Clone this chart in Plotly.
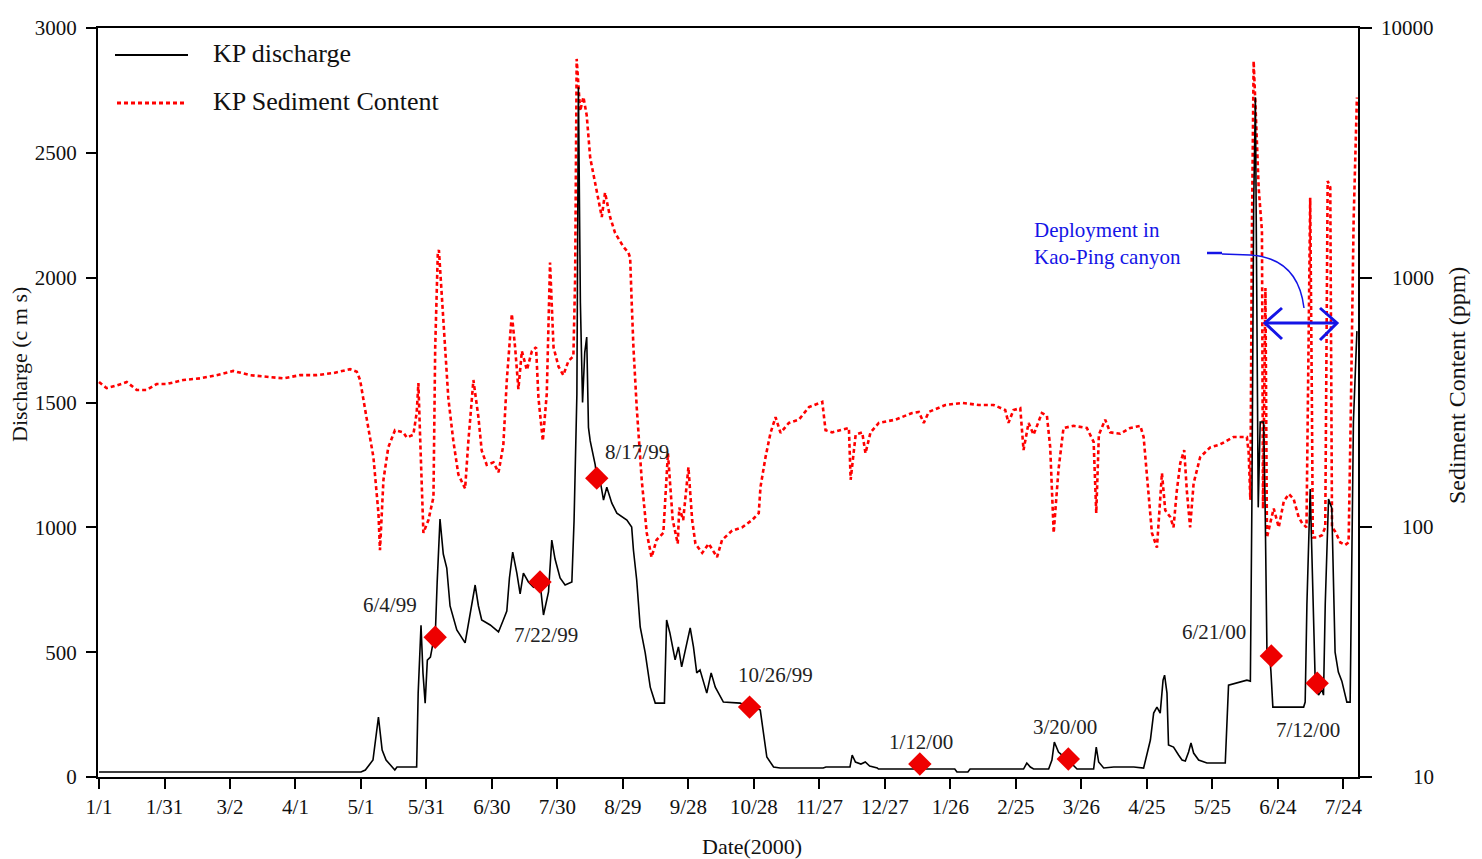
import plotly.graph_objects as go
import math

# ---------------- data (day 0 = 1 Jan 1999) ----------------
tick_day = [0, 30, 60, 90, 120, 150, 180, 210, 240, 270, 300, 330, 360, 390, 420, 450, 480, 510, 540, 570]
tick_text = ["1/1", "1/31", "3/2", "4/1", "5/1", "5/31", "6/30", "7/30", "8/29", "9/28", "10/28",
             "11/27", "12/27", "1/26", "2/25", "3/26", "4/25", "5/25", "6/24", "7/24"]

dis_day = [0, 120, 122, 125.5, 128, 129.7, 131.5, 135.5, 136.5, 145.5, 146.2, 147.5, 148.4, 149.4, 150.4,
           151.8, 153, 154, 154.9, 156.2, 157.7, 159.3, 160.8, 163.9, 167.7, 169.2, 170.8, 172.3, 173.8,
           175.3, 179.2, 183, 185.2, 186.8, 188, 189.5, 191.4, 192.9, 194.4, 196.7, 199, 202, 203.6, 205.9,
           207.4, 208.9, 211.2, 213.5, 216.6, 217.6, 218.9, 219.6, 220.5, 221.5, 222.5, 223.4, 224.2, 225,
           227.3, 228, 229.5, 231.1, 232.6, 234.9, 237.2, 241.8, 244, 244.8, 246.3, 247.9, 250.2, 252.5,
           254.8, 259, 260, 261.5, 263.9, 265.4, 266.9, 269.5, 270.8, 272.3, 273.8, 275.3, 278.4, 280.4,
           282.3, 286, 293.7, 297.4, 299.8, 302.9, 304.4, 305.9, 309, 312, 331.7, 333, 344, 345, 346.5, 349,
           351, 353, 356.5, 357, 392, 393, 398, 399, 423.5, 425, 426.6, 428.1, 435, 436.5, 437.6, 439.5,
           441.1, 443.5, 445.7, 448, 455.6, 456.8, 457.9, 460.2, 464.8, 474, 478.5, 480, 481.6, 483.1, 484.6,
           486.1, 487.4, 488.1, 489.2, 489.9, 492.2, 494.5, 496.1, 497.6, 499.1, 500.2, 501.4, 503.7, 507.5,
           515.9, 516.7, 517.4, 525.8, 527.4, 528.1, 528.9, 529.7, 530.4, 531, 531.9, 533.5, 534.2, 535,
           536.2, 536.8, 537.7, 551.8, 552.5, 553.3, 554.8, 556, 557.1, 558.6, 560.2, 560.9, 561.7, 563.2,
           564.7, 566.2, 567.7, 569.3, 571.6, 573.1, 573.9, 574.6, 576.2]
dis_cms = [20, 20, 28, 68, 240, 108, 68, 28, 40, 40, 336, 608, 416, 296, 468,
           480, 536, 560, 780, 1033, 893, 837, 685, 589, 537, 609, 685, 769, 685,
           629, 609, 581, 629, 665, 797, 901, 817, 733, 817, 781, 760, 781, 649, 741,
           949, 873, 797, 769, 781, 1025, 1534, 2763, 1900, 1500, 1700, 1762, 1400, 1346,
           1250, 1197, 1190, 1109, 1161, 1097, 1057, 1029, 1001, 909, 789, 601, 497, 360,
           296, 296, 629, 577, 469, 521, 441, 537, 597, 521, 417, 429, 336, 417,
           360, 300, 296, 280, 280, 268, 176, 80, 40, 36, 36, 40, 40, 88, 60, 52,
           60, 44, 36, 32, 32, 20, 20, 32, 32, 56, 40, 32, 32, 68, 140, 100,
           88, 72, 52, 32, 32, 120, 60, 36, 40, 40, 36, 96, 148, 256, 280,
           256, 388, 408, 336, 128, 120, 88, 68, 64, 100, 136, 96, 68, 56,
           56, 216, 368, 388, 384, 1100, 2283, 2723, 2000, 1080, 1422, 1422, 1057, 500,
           485, 425, 280, 280, 300, 693, 1153, 769, 384, 328, 350, 328, 693, 1113,
           1077, 500, 420, 384, 300, 300, 885, 1422, 1786]

sed_day = [0, 3.5, 8.1, 12.7, 17.3, 21.8, 26.4, 31, 38.6, 46.3, 53.9, 61.5, 69.2, 76.8, 84.4, 92.1, 99.7,
           107.4, 115, 118.1, 119.6, 122.7, 125.7, 128, 128.7, 130.3, 132.5, 135.6, 139.4, 141, 144, 145.5,
           146.3, 147.1, 148.6, 150.9, 153.2, 154, 155.2, 155.7, 157.8, 160, 162.3, 164.6, 167.7, 169.2,
           171.5, 173.8, 175.3, 177.6, 180.7, 183, 185.2, 186.8, 189.1, 190.6, 192.1, 193.7, 196, 198.3,
           200.2, 201.3, 203.3, 205.1, 206.6, 208.2, 210.5, 212.7, 215, 217.3, 218.1, 218.8, 220.4, 221.9,
           223.4, 225, 228, 230.3, 231.8, 234.1, 236.4, 240.2, 242.5, 243.3, 244, 244.8, 246.3, 248.6,
           250.9, 253.1, 255.4, 258.5, 260.6, 262.8, 265.1, 265.8, 267.6, 270, 271.7, 273.2, 276.3, 279.3,
           283.1, 285.4, 290, 294.6, 299.2, 302.2, 303, 305.3, 307.6, 309.9, 312.2, 316, 320.6, 325.2,
           331.3, 332.8, 335.8, 340.4, 343.5, 344.3, 346.6, 349.6, 351.1, 353.4, 357.2, 364.8, 372.5,
           375.5, 377.8, 380.1, 387.7, 395.4, 403, 409.8, 415.1, 416.6, 418.9, 422, 423.5, 425.8, 428.1,
           431.9, 434.2, 435.7, 437.3, 439.5, 441.8, 446.4, 452.5, 455.6, 456.8, 458, 460.9, 463.2, 467.8,
           472.4, 477, 478.5, 480, 482.3, 484.6, 486.9, 488.4, 490.7, 492.2, 493.7, 495.3, 497.1, 498.3,
           499.8, 501.4, 504.4, 509, 513.6, 519.7, 525.8, 526.6, 527.4, 528.1, 528.9, 530.1, 531.2, 532.7,
           533.2, 534.3, 535, 536.5, 538.1, 540.4, 542.7, 545, 547.2, 549.5, 551.1, 553.1, 554.1, 554.8,
           555.6, 556, 557.9, 560.2, 561.7, 562.8, 564, 564.8, 566.3, 568.6, 570.8, 572.4, 573.4, 574.7,
           576.2]
sed_ppm = [382, 361, 370, 382, 355, 355, 375, 375, 389, 395, 407, 423, 407, 400, 395, 407, 407,
           415, 430, 420, 389, 270, 191, 114, 81, 155, 209, 245, 240, 229, 235, 287,
           378, 229, 95, 107, 132, 526, 1260, 1290, 659, 330, 222, 163, 143, 222,
           389, 276, 203, 178, 182, 166, 213, 389, 715, 526, 358, 508, 427, 508,
           526, 330, 222, 342, 1150, 526, 440, 407, 463, 485, 1000, 7520, 4650, 5290,
           4470, 3020, 2220, 1750, 2190, 1750, 1510, 1330, 1260, 1200, 800, 526, 303, 155,
           95, 76, 89, 95, 198, 107, 86, 120, 107, 174, 107, 86, 79, 86,
           76, 89, 97, 100, 107, 114, 145, 191, 239, 276, 239, 262, 270, 303,
           318, 245, 240, 245, 250, 155, 235, 240, 198, 240, 262, 270, 287,
           290, 262, 290, 309, 315, 309, 309, 295, 262, 295, 300, 204, 262, 235,
           287, 280, 210, 95, 170, 250, 255, 250, 220, 114, 235, 270, 240, 237,
           250, 255, 230, 165, 95, 83, 165, 117, 110, 100, 140, 181, 204, 140,
           100, 150, 191, 209, 215, 230, 230, 200, 129, 1500, 7370, 4070, 2290, 1540,
           119, 910, 91, 104, 119, 100, 127, 136, 130, 110, 104, 100, 910, 2090,
           300, 91, 91, 93, 100, 2440, 2300, 100, 96, 87, 85, 87, 287, 1700,
           5270]

sample_day = [154, 202, 228, 298, 376, 444, 537, 558]
sample_cms = [560, 781, 1197, 280, 52, 72, 485, 376]
sample_label = ["6/4/99", "7/22/99", "8/17/99", "10/26/99", "1/12/00", "3/20/00", "6/21/00", "7/12/00"]

dis_ticks = [0, 500, 1000, 1500, 2000, 2500, 3000]
sed_ticks = [10, 100, 1000, 10000]

# ---------------- layout helpers ----------------
W, H = 1482, 859
L, R, T, B = 98, 124, 28, 82
PW, PH = W - L - R, H - T - B
FONT = "Liberation Serif, Times New Roman, serif"


def px(x):
    return (x - L) / PW


def py(y):
    return (H - B - y) / PH


# label anchor positions for the sample dates (days, cms)
label_x = [133.3, 204.8, 246.5, 309.7, 376.6, 442.6, 510.9, 553.9]
label_y = [689, 569, 1302, 408, 140, 200, 581, 188]

fig = go.Figure()
fig.add_trace(go.Scatter(x=sed_day, y=sed_ppm, yaxis="y", mode="lines",
                         line=dict(color="#ff0000", width=2.6, dash="4px,3px"),
                         name="KP Sediment Content", showlegend=False))
fig.add_trace(go.Scatter(x=dis_day, y=dis_cms, yaxis="y2", mode="lines",
                         line=dict(color="#000000", width=1.6),
                         name="KP discharge", showlegend=False))
fig.add_trace(go.Scatter(x=sample_day, y=sample_cms, yaxis="y2", mode="markers",
                         marker=dict(symbol="diamond", size=18, color="#ee0000"),
                         showlegend=False))

ann = []
for lx, ly, t in zip(label_x, label_y, sample_label):
    ann.append(dict(x=lx, y=ly, xref="x", yref="y2", text=t, showarrow=False,
                    xanchor="center", yanchor="middle",
                    font=dict(family=FONT, size=21, color="#222")))

# right axis tick labels (right aligned)
for v in sed_ticks:
    ann.append(dict(x=px(1436), y=math.log10(v), xref="paper", yref="y", text=str(v),
                    showarrow=False, xanchor="right", yanchor="middle",
                    font=dict(family=FONT, size=21, color="#111")))

# axis titles
ann.append(dict(x=px(752), y=py(846), xref="paper", yref="paper", text="Date(2000)",
                xanchor="center", yanchor="middle",
                showarrow=False, font=dict(family=FONT, size=22, color="#111")))
ann.append(dict(x=px(20), y=py(365), xref="paper", yref="paper", text="Discharge (c m s)",
                xanchor="center", yanchor="middle",
                textangle=-90, showarrow=False, font=dict(family=FONT, size=22, color="#111")))
ann.append(dict(x=px(1457), y=py(386), xref="paper", yref="paper", text="Sediment Content (ppm)",
                xanchor="center", yanchor="middle",
                textangle=-90, showarrow=False, font=dict(family=FONT, size=24, color="#111")))

# legend (drawn manually)
ann.append(dict(x=px(211), y=py(54), xref="paper", yref="paper", text="KP discharge",
                xanchor="left", yanchor="middle",
                showarrow=False, font=dict(family=FONT, size=26, color="#111")))
ann.append(dict(x=px(211), y=py(102), xref="paper", yref="paper", text="KP Sediment Content",
                xanchor="left", yanchor="middle",
                showarrow=False, font=dict(family=FONT, size=26, color="#111")))

# deployment note
BLUE = "#1414e6"
ann.append(dict(x=px(1032), y=py(243), xref="paper", yref="paper",
                text="Deployment in<br>Kao-Ping canyon", align="left",
                xanchor="left", yanchor="middle",
                showarrow=False, font=dict(family=FONT, size=21, color=BLUE)))

shapes = [
    dict(type="line", xref="paper", yref="paper", x0=px(115), x1=px(188), y0=py(55), y1=py(55),
         line=dict(color="#000", width=2)),
    dict(type="line", xref="paper", yref="paper", x0=px(117), x1=px(187), y0=py(103), y1=py(103),
         line=dict(color="#ff0000", width=3, dash="4px,3px")),
    dict(type="line", xref="paper", yref="paper", x0=px(1207), x1=px(1222), y0=py(253), y1=py(253),
         line=dict(color=BLUE, width=2.5)),
    dict(type="path", xref="paper", yref="paper",
         path=f"M {px(1222)},{py(254)} L {px(1250)},{py(255)} Q {px(1298)},{py(258)} {px(1304)},{py(308)}",
         line=dict(color=BLUE, width=1.5)),
    dict(type="line", xref="paper", yref="paper", x0=px(1266), x1=px(1336), y0=py(323), y1=py(323),
         line=dict(color=BLUE, width=3)),
    dict(type="path", xref="paper", yref="paper",
         path=f"M {px(1282)},{py(308)} L {px(1265)},{py(323)} L {px(1282)},{py(339)}",
         line=dict(color=BLUE, width=3)),
    dict(type="path", xref="paper", yref="paper",
         path=f"M {px(1320)},{py(308)} L {px(1337)},{py(323)} L {px(1320)},{py(340)}",
         line=dict(color=BLUE, width=3)),
]

fig.update_layout(
    width=W, height=H, autosize=False,
    margin=dict(l=L, r=R, t=T, b=B, pad=0),
    paper_bgcolor="white", plot_bgcolor="white",
    font=dict(family=FONT, size=21, color="#111"),
    showlegend=False,
    xaxis=dict(range=[-0.46, 576.7], tickmode="array", tickvals=tick_day, ticktext=tick_text,
               ticks="outside", ticklen=10, tickwidth=2, tickcolor="#000",
               showline=True, linewidth=2, linecolor="#000", mirror=True,
               showgrid=False, zeroline=False, tickfont=dict(family=FONT, size=21, color="#111")),
    yaxis=dict(type="log", range=[1, 4], side="right", tickmode="array", tickvals=sed_ticks,
               showticklabels=False, ticks="outside", ticklen=12, tickwidth=2, tickcolor="#000",
               showline=True, linewidth=2, linecolor="#000", showgrid=False, zeroline=False),
    yaxis2=dict(range=[0, 3000], overlaying="y", side="left", tickmode="array", tickvals=dis_ticks,
                ticks="outside", ticklen=10, tickwidth=2, tickcolor="#000",
                showline=True, linewidth=2, linecolor="#000", showgrid=False, zeroline=False,
                ticklabelstandoff=5, tickfont=dict(family=FONT, size=21, color="#111")),
    annotations=ann,
    shapes=shapes,
)

fig.write_html("out.html")
